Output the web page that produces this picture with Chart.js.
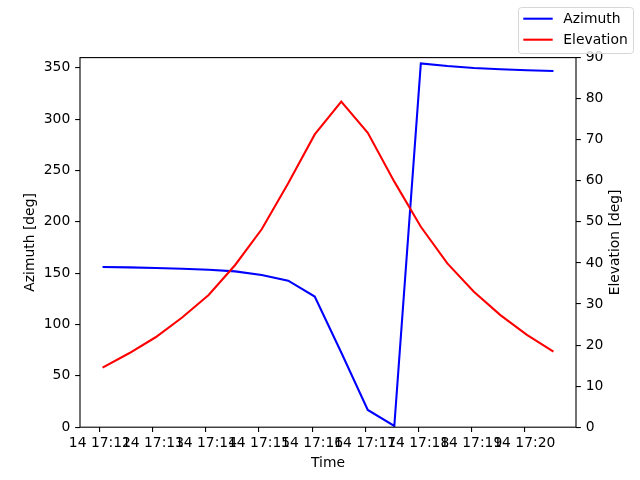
<!DOCTYPE html>
<html><head><meta charset="utf-8">
<script src="https://cdn.jsdelivr.net/npm/chart.js@4"></script>
<style>html,body{margin:0;padding:0;background:#fff}</style>
</head><body>
<canvas id="c" width="640" height="480" style="width:640px;height:480px;display:block"></canvas>
<script>
// ---- data ----
const times = ["17:12:03","17:12:33","17:13:03","17:13:33","17:14:03","17:14:33","17:15:03","17:15:33","17:16:03",
               "17:16:33","17:17:03","17:17:33","17:18:03","17:18:33","17:19:03","17:19:33","17:20:03","17:20:33"];
const azimuth = [156.0,155.7,155.1,154.4,153.4,151.8,148.2,142.7,127.3,72.8,16.8,1.2,354.4,351.8,349.9,348.6,347.6,346.9];
const elevation = [14.5,18.0,21.9,26.7,32.2,39.5,48.2,59.4,71.3,79.3,71.7,59.8,48.8,39.9,33.0,27.3,22.5,18.4];
const timeTickLabels = ["14 17:12","14 17:13","14 17:14","14 17:15","14 17:16","14 17:17","14 17:18","14 17:19","14 17:20"];
const azimuthTicks = [0,50,100,150,200,250,300,350];
const elevationTicks = [0,10,20,30,40,50,60,70,80,90];
const seriesNames = ["Azimuth","Elevation"];
const seriesColors = ["#0000ff","#ff0000"];

// ---- helpers ----
const REF = 17*3600 + 12*60;
function toSec(s){ const p = s.split(":").map(Number); return p[0]*3600 + p[1]*60 + (p[2]||0) - REF; }
const xs = times.map(toSec);
const tickSecs = timeTickLabels.map(l => toSec(l.split(" ")[1]));
const span = xs[xs.length-1] - xs[0];
const xMin = xs[0] - 0.05*span, xMax = xs[xs.length-1] + 0.05*span;

const FONT = {family: "DejaVu Sans", size: 13.89};
const TL = 4.86;

const framePlugin = {
  id: 'frame',
  afterDraw(chart){
    const ctx = chart.ctx, a = chart.chartArea;
    ctx.save();
    ctx.strokeStyle = '#000'; ctx.lineWidth = 1.1;
    ctx.strokeRect(a.left, a.top, a.right - a.left, a.bottom - a.top);
    // right axis title (reads bottom to top like matplotlib)
    ctx.fillStyle = '#000';
    ctx.font = FONT.size + 'px "DejaVu Sans"';
    ctx.textAlign = 'center'; ctx.textBaseline = 'middle';
    ctx.translate(615, (a.top + a.bottom)/2);
    ctx.rotate(-Math.PI/2);
    ctx.fillText('Elevation [deg]', 0, 0);
    ctx.restore();
    // figure legend
    ctx.save();
    const bx = 518, by = 7, bw = 115, bh = 46;
    ctx.fillStyle = 'rgba(255,255,255,0.8)';
    ctx.strokeStyle = '#d6d6d6'; ctx.lineWidth = 1;
    ctx.beginPath(); ctx.roundRect(bx+0.5, by+0.5, bw, bh, 3); ctx.fill(); ctx.stroke();
    ctx.font = FONT.size + 'px "DejaVu Sans"';
    ctx.textAlign = 'left'; ctx.textBaseline = 'middle';
    chart.data.datasets.forEach((ds, i) => {
      const y = 18.7 + i*21;
      ctx.strokeStyle = ds.borderColor; ctx.lineWidth = ds.borderWidth;
      ctx.beginPath(); ctx.moveTo(523.3, y); ctx.lineTo(552.7, y); ctx.stroke();
      ctx.fillStyle = '#000';
      ctx.fillText(ds.label, 563.3, y + 0.5);
    });
    ctx.restore();
  }
};

new Chart(document.getElementById('c'), {
  type: 'line',
  data: {
    datasets: [
      {label: seriesNames[0], data: xs.map((x,i)=>({x, y: azimuth[i]})), yAxisID: 'y',
       borderColor: seriesColors[0], backgroundColor: seriesColors[0], borderWidth: 2.08, pointRadius: 0, tension: 0, order: 1},
      {label: seriesNames[1], data: xs.map((x,i)=>({x, y: elevation[i]})), yAxisID: 'y1',
       borderColor: seriesColors[1], backgroundColor: seriesColors[1], borderWidth: 2.08, pointRadius: 0, tension: 0, order: 0}
    ]
  },
  options: {
    responsive: false, animation: false, devicePixelRatio: 1,
    layout: {padding: {top: 57.6, left: 0, right: 0, bottom: 0}},
    plugins: {legend: {display: false}, tooltip: {enabled: false}},
    scales: {
      x: {
        type: 'linear', min: xMin, max: xMax, position: 'bottom',
        afterBuildTicks: s => { s.ticks = tickSecs.map(v => ({value: v})); },
        afterFit: s => { s.height = 52.8; },
        ticks: {autoSkip: false, maxRotation: 0, minRotation: 0, padding: 3, color: '#000', font: FONT,
                callback: (v, i) => timeTickLabels[i]},
        grid: {drawOnChartArea: false, drawTicks: true, tickLength: TL, color: '#000', lineWidth: 1.1},
        border: {display: false},
        title: {display: true, text: 'Time', color: '#000', font: FONT, padding: {top: 0, bottom: 8.5}}
      },
      y: {
        type: 'linear', position: 'left', min: 0, max: 360,
        afterBuildTicks: s => { s.ticks = azimuthTicks.map(v => ({value: v})); },
        afterFit: s => { s.width = 80; },
        ticks: {padding: TL, color: '#000', font: FONT},
        grid: {drawOnChartArea: false, drawTicks: true, tickLength: TL, color: '#000', lineWidth: 1.1},
        border: {display: false},
        title: {display: true, text: 'Azimuth [deg]', color: '#000', font: FONT, padding: {top: 22, bottom: 0}}
      },
      y1: {
        type: 'linear', position: 'right', min: 0, max: 90,
        afterBuildTicks: s => { s.ticks = elevationTicks.map(v => ({value: v})); },
        afterFit: s => { s.width = 64; },
        ticks: {padding: TL, color: '#000', font: FONT},
        grid: {drawOnChartArea: false, drawTicks: true, tickLength: TL, color: '#000', lineWidth: 1.1},
        border: {display: false},
        title: {display: false}
      }
    }
  },
  plugins: [framePlugin]
});
</script>
</body></html>
